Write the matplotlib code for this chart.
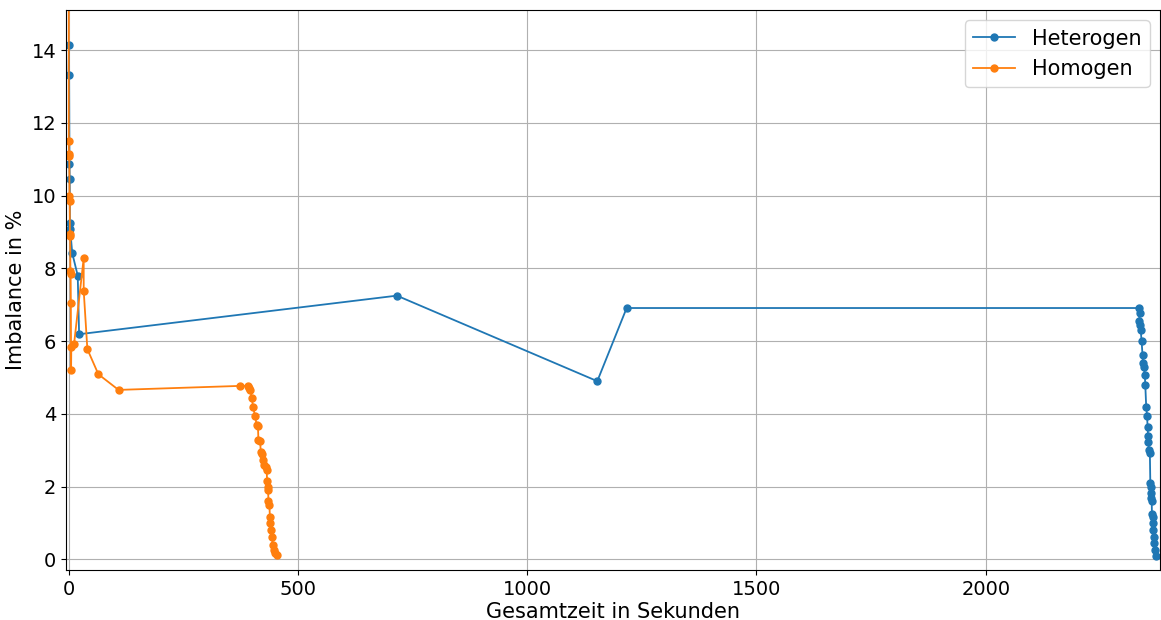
import numpy as np
import matplotlib
matplotlib.use("Agg")
import matplotlib.pyplot as plt

# Heterogen: cumulative time (s) vs. imbalance (%)
het_t = [0, 1, 2, 2.5, 3, 3.5, 8, 20, 23,
         716, 1153, 1217, 2334,
         2336, 2334.5, 2337, 2338, 2340, 2342, 2343, 2345, 2347, 2348,
         2350, 2352, 2353, 2354, 2354.5, 2356,
         2358, 2359, 2360, 2361, 2361.5, 2362, 2362.5, 2364,
         2364.5, 2365, 2366, 2367, 2369, 2371]
het_y = [13.31, 14.15, 10.87, 10.46, 9.26, 9.08, 8.42, 7.80, 6.19,
         7.25, 4.90, 6.91, 6.91,
         6.77, 6.54, 6.45, 6.31, 5.99, 5.62, 5.39, 5.30, 5.07, 4.80,
         4.20, 3.93, 3.65, 3.38, 3.24, 3.01,
         2.92, 2.09, 2.00, 1.82, 1.70, 1.60, 1.25, 1.17,
         1.00, 0.81, 0.63, 0.44, 0.26, 0.10]

# Homogen: cumulative time (s) vs. imbalance (%)
hom_t = [0, 0.5, 1, 1.5, 2, 2.5, 3, 3.5, 4, 4.5, 5, 5.5, 6, 12,
         33, 33, 41, 65, 109,
         374, 392, 394, 396, 400, 402, 407, 410, 413, 414, 418, 419, 421,
         424, 427, 430, 432, 433, 434, 435, 436, 438, 439, 440, 442, 444,
         445, 447, 450, 454]
hom_y = [40.0, 11.49, 11.15, 11.10, 10.00, 9.84, 8.88, 8.95, 7.94, 7.85,
         7.06, 5.21, 5.85, 5.92,
         8.28, 7.39, 5.78, 5.09, 4.66,
         4.77, 4.77, 4.70, 4.66, 4.43, 4.20, 3.93, 3.70, 3.67, 3.28, 3.25,
         2.96, 2.90, 2.73, 2.60, 2.55, 2.46, 2.15, 2.00, 1.90, 1.62, 1.50,
         1.18, 1.00, 0.81, 0.62, 0.40, 0.25, 0.18, 0.12]

fig = plt.figure(figsize=(11.61, 6.2), dpi=100)
ax = fig.add_axes([0.0568, 0.0806, 0.9423, 0.9033])

ax.plot(het_t, het_y, "o-", color="C0", lw=1.3, ms=5, label="Heterogen")
ax.plot(hom_t, hom_y, "o-", color="C1", lw=1.3, ms=5, label="Homogen")

ax.set_xlim(-5.7, 2380)
ax.set_ylim(-0.29, 15.1)
ax.set_xticks([0, 500, 1000, 1500, 2000])
ax.set_yticks(np.arange(0, 15, 2))
ax.tick_params(labelsize=14)
ax.set_xlabel("Gesamtzeit in Sekunden", fontsize=15, labelpad=2)
ax.set_ylabel("Imbalance in %", fontsize=15)
ax.grid(True)
ax.legend(loc="upper right", fontsize=15)

fig.savefig("out.png", dpi=100)
